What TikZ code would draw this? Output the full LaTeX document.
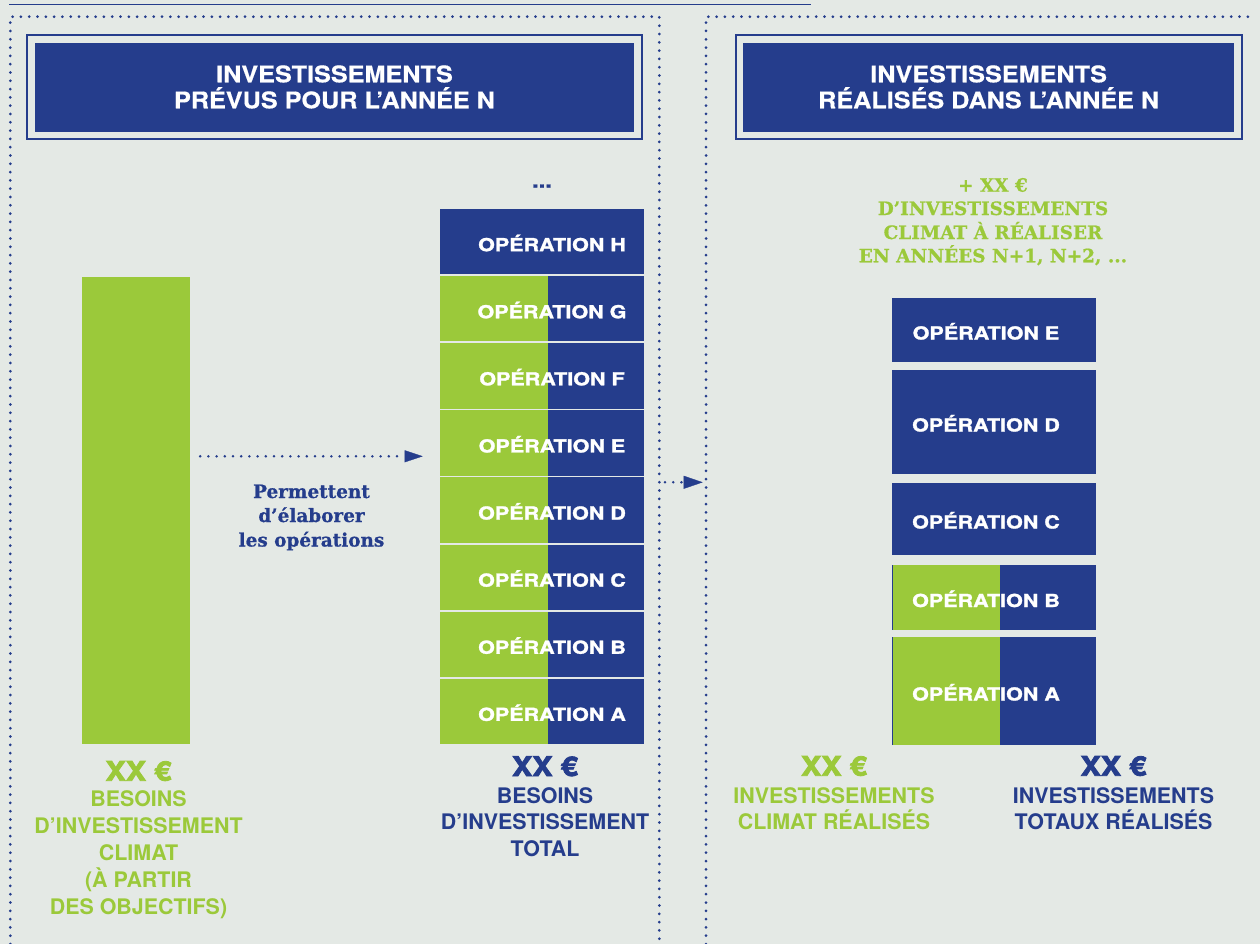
\documentclass[tikz,border=0pt]{standalone}
\usepackage{fontspec}
\setmainfont{TeX Gyre Heros}
\newfontfamily\hdfont{TeX Gyre Heros}[FakeStretch=1.1,FakeBold=0.6]
\newfontfamily\widefont{TeX Gyre Heros}[FakeStretch=1.2,FakeBold=1.5]
\newfontfamily\heavyfont{TeX Gyre Heros}[FakeStretch=1.13,FakeBold=3]
\newfontfamily\slabfont{DejaVu Serif}[FakeBold=0.8]
\usetikzlibrary{arrows.meta}
\definecolor{navy}{HTML}{253D8C}
\definecolor{leaf}{HTML}{9BC93A}
\definecolor{paper}{HTML}{E4E9E5}
\begin{document}
\begin{tikzpicture}[x=1bp,y=-1bp,
  dotline/.style={navy, line width=3bp, line cap=round, dash pattern=on 0bp off 8.3bp},
  flow/.style={navy, line width=2.8bp, line cap=round, dash pattern=on 0bp off 8.2bp},
  hdbox/.style={fill=navy, draw=navy, line width=2bp, double=paper, double distance=6.7bp, inner sep=0pt},
  hdtext/.style={text=white, font=\hdfont\bfseries\fontsize{23}{26}\selectfont, anchor=base, inner sep=0pt},
  opbox/.style={fill=navy, minimum width=204bp, inner sep=0pt, outer sep=0pt},
  optext/.style={text=white, font=\widefont\bfseries\fontsize{18}{20}\selectfont, anchor=base, inner sep=0pt},
  bigsum/.style={font=\heavyfont\bfseries\fontsize{27}{30}\selectfont, anchor=base, inner sep=0pt},
  caption/.style={font=\bfseries\fontsize{21.5}{26}\selectfont, anchor=base, inner sep=0pt},
  slab/.style={font=\slabfont\bfseries\fontsize{18.5}{23}\selectfont, anchor=base, inner sep=0pt}]

\useasboundingbox (0,0) rectangle (1260,944);
\fill[paper] (0,0) rectangle (1260,944);

% top rule and dotted panel outlines
\draw[navy, line width=1.3bp] (9,4.7) -- (810.7,4.7);
\draw[dotline] (10.3,944) -- (10.3,16.7) -- (659.3,16.7) -- (659.3,944);
\draw[dotline] (706,944) -- (706,16.7) -- (1256,16.7);

% panel headers
\node[hdbox, minimum width=605.7bp, minimum height=95.5bp] (hdL) at (334.5,87.25) {};
\node[hdtext] (hdL1) at (334.5,82.3) {INVESTISSEMENTS};
\node[hdtext] (hdL2) at (334.5,108.3) {PRÉVUS POUR L’ANNÉE N};
\node[hdbox, minimum width=497.4bp, minimum height=95.5bp] (hdR) at (988.65,87.25) {};
\node[hdtext] (hdR1) at (988.65,82.3) {INVESTISSEMENTS};
\node[hdtext] (hdR2) at (988.65,108.3) {RÉALISÉS DANS L’ANNÉE N};

% climate needs bar
\node[fill=leaf, minimum width=108bp, minimum height=467bp, inner sep=0pt] (climatbar) at (136,510.5) {};

% planned operations stack
\node[slab, text=navy, font=\widefont\bfseries\fontsize{20}{22}\selectfont] (more) at (542,187.5) {...};
\node[opbox, minimum height=65.3bp] (opH) at (542,241.65) {};
\node[optext] (tH) at (552,251.15) {OPÉRATION H};
\foreach \L [count=\i] in {G,F,E,D,C,B,A} {
  \pgfmathsetmacro\cy{241.65+67.1*\i}
  \pgfmathsetmacro\ty{\cy+9.5}
  \node[opbox, minimum height=65.3bp] (op\L) at (542,\cy) {};
  \fill[leaf] (op\L.north west) rectangle ([xshift=108bp]op\L.south west);
  \node[optext] (t\L) at (552,\ty) {OPÉRATION \L};
}

% flow arrows
\coordinate (arrowrow) at (0,456.3);
\draw[flow, shorten <=10bp, shorten >=17.3bp, -{Triangle[length=18bp,width=12bp,line width=0.3bp]}]
  (climatbar.east |- arrowrow) -- (opH.west |- arrowrow);
\node[slab, text=navy] (why1) at (311.5,498) {Permettent};
\node[slab, text=navy] (why2) at (311.5,522) {d’élaborer};
\node[slab, text=navy] (why3) at (311.5,546.5) {les opérations};

\coordinate (handoff) at (702.7,482.3);
\draw[flow, shorten <=21bp, -{Triangle[length=19bp,width=13bp,line width=0.3bp]}]
  (opD.east |- handoff) -- (handoff);

% carried-over climate investments
\node[slab, text=leaf] (next1) at (993,191.7) {+ XX €};
\node[slab, text=leaf] (next2) at (993,215) {D’INVESTISSEMENTS};
\node[slab, text=leaf] (next3) at (993,239) {CLIMAT À RÉALISER};
\node[slab, text=leaf] (next4) at (993,262.3) {EN ANNÉES N+1, N+2, ...};

% realised operations stack
\node[opbox, minimum height=64bp] (rE) at (994,330) {};
\node[opbox, minimum height=104bp] (rD) at (994,422) {};
\node[opbox, minimum height=72bp] (rC) at (994,519) {};
\node[opbox, minimum height=65bp] (rB) at (994,597.5) {};
\node[opbox, minimum height=108bp] (rA) at (994,691) {};
\fill[leaf] ([xshift=1bp]rB.north west) rectangle ([xshift=108bp]rB.south west);
\fill[leaf] ([xshift=1bp]rA.north west) rectangle ([xshift=108bp]rA.south west);
\node[optext] (trE) at (986,339.5) {OPÉRATION E};
\node[optext] (trD) at (986,431.5) {OPÉRATION D};
\node[optext] (trC) at (986,528.5) {OPÉRATION C};
\node[optext] (trB) at (986,607) {OPÉRATION B};
\node[optext] (trA) at (986,700.5) {OPÉRATION A};

% totals under the columns
\node[bigsum, text=leaf] (sum1) at (138.5,780.7) {XX €};
\node[caption, text=leaf] (c11) at (138.5,806) {BESOINS};
\node[caption, text=leaf] (c12) at (138.5,833) {D’INVESTISSEMENT};
\node[caption, text=leaf] (c13) at (138.5,860) {CLIMAT};
\node[caption, text=leaf] (c14) at (138.5,887) {(À PARTIR};
\node[caption, text=leaf] (c15) at (138.5,914) {DES OBJECTIFS)};

\node[bigsum, text=navy] (sum2) at (545,776) {XX €};
\node[caption, text=navy] (c21) at (545,803) {BESOINS};
\node[caption, text=navy] (c22) at (545,829.5) {D’INVESTISSEMENT};
\node[caption, text=navy] (c23) at (545,856) {TOTAL};

\node[bigsum, text=leaf] (sum3) at (834,775.7) {XX €};
\node[caption, text=leaf] (c31) at (834,803) {INVESTISSEMENTS};
\node[caption, text=leaf] (c32) at (834,829) {CLIMAT RÉALISÉS};

\node[bigsum, text=navy] (sum4) at (1113.5,775.7) {XX €};
\node[caption, text=navy] (c41) at (1113.5,803) {INVESTISSEMENTS};
\node[caption, text=navy] (c42) at (1113.5,829) {TOTAUX RÉALISÉS};
\end{tikzpicture}
\end{document}
